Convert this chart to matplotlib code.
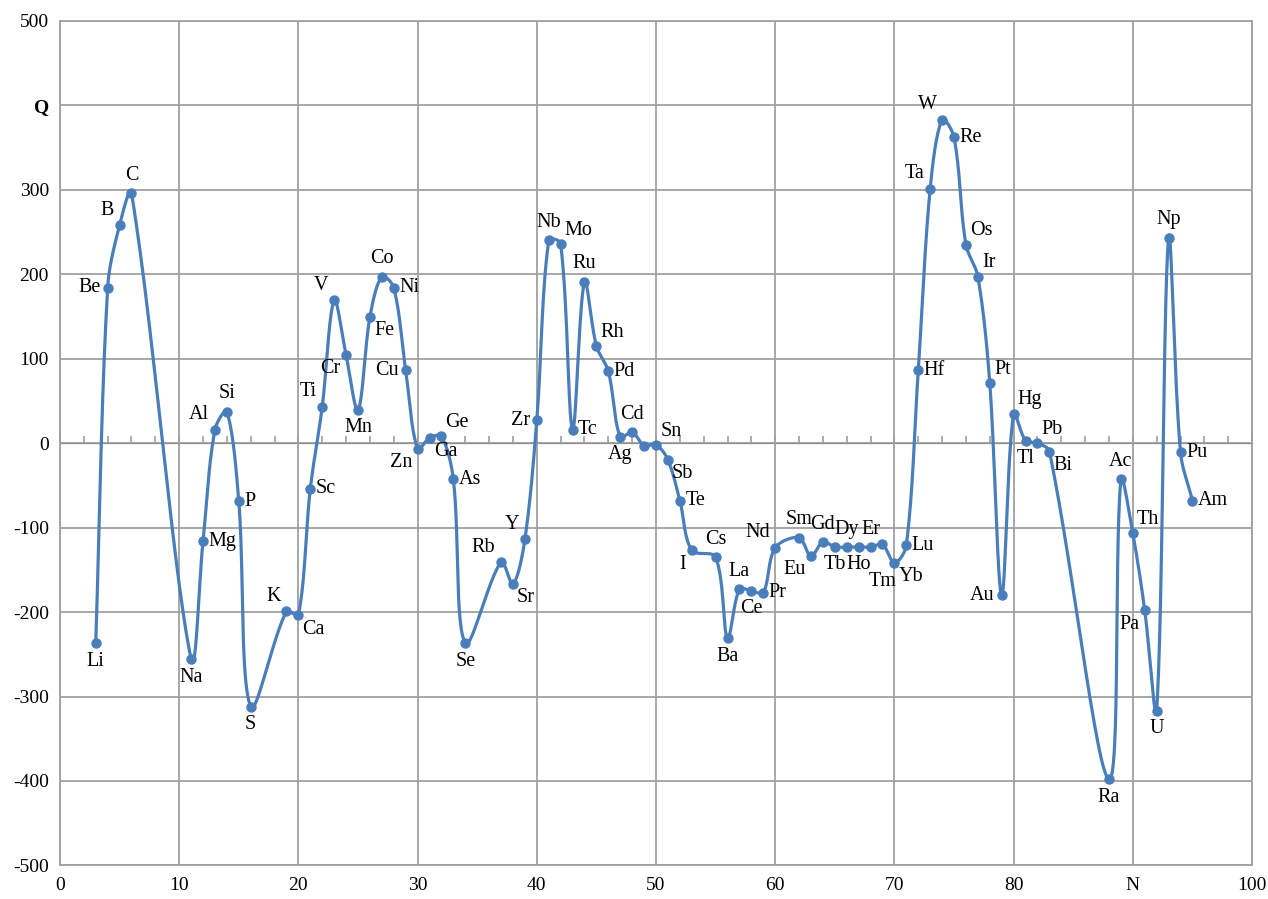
import numpy as np
import matplotlib.pyplot as plt

plt.rcParams['font.family'] = ['Liberation Serif', 'DejaVu Serif']

# element symbols, atomic number N and value Q
symbols = ['Li', 'Be', 'B', 'C', 'Na', 'Mg', 'Al', 'Si', 'P', 'S',
           'K', 'Ca', 'Sc', 'Ti', 'V', 'Cr', 'Mn', 'Fe', 'Co', 'Ni',
           'Cu', 'Zn', 'Ga', 'Ge', 'As', 'Se', 'Rb', 'Sr', 'Y', 'Zr',
           'Nb', 'Mo', 'Tc', 'Ru', 'Rh', 'Pd', 'Ag', 'Cd', '', 'Sn',
           'Sb', 'Te', 'I', 'Cs', 'Ba', 'La', 'Ce', 'Pr', 'Nd', 'Sm',
           'Eu', 'Gd', 'Tb', 'Dy', 'Ho', 'Er', 'Tm', 'Yb', 'Lu', 'Hf',
           'Ta', 'W', 'Re', 'Os', 'Ir', 'Pt', 'Au', 'Hg', 'Tl', 'Pb',
           'Bi', 'Ra', 'Ac', 'Th', 'Pa', 'U', 'Np', 'Pu', 'Am']
n_atomic = [3, 4, 5, 6, 11, 12, 13, 14, 15, 16,
            19, 20, 21, 22, 23, 24, 25, 26, 27, 28,
            29, 30, 31, 32, 33, 34, 37, 38, 39, 40,
            41, 42, 43, 44, 45, 46, 47, 48, 49, 50,
            51, 52, 53, 55, 56, 57, 58, 59, 60, 62,
            63, 64, 65, 66, 67, 68, 69, 70, 71, 72,
            73, 74, 75, 76, 77, 78, 79, 80, 81, 82,
            83, 88, 89, 90, 91, 92, 93, 94, 95]
q_values = [-237, 184, 258, 296, -256, -116, 16, 37, -69, -312,
            -199, -204, -54, 43, 169, 104, 39, 149, 197, 184,
            86, -7, 6, 8, -43, -237, -141, -167, -114, 27,
            240, 236, 16, 191, 115, 85, 7, 13, -3, -2,
            -20, -68, -127, -135, -231, -173, -175, -177, -124, -112,
            -134, -117, -123, -123, -123, -123, -120, -142, -121, 86,
            301, 383, 362, 235, 197, 71, -180, 35, 3, 0,
            -10, -398, -43, -107, -198, -317, 243, -11, -68]

y_ticks = [500, 400, 300, 200, 100, 0, -100, -200, -300, -400, -500]
y_labels = ['500', 'Q', '300', '200', '100', '0', '-100', '-200', '-300', '-400', '-500']
x_ticks = [0, 10, 20, 30, 40, 50, 60, 70, 80, 90, 100]
x_labels = ['0', '10', '20', '30', '40', '50', '60', '70', '80', 'N', '100']

# where each label sits relative to its point
where = ['b', 'l', 'tl', 't', 'b', 'r', 'tl', 't', 'r', 'b',
         'tl', 'br', 'r', 'tl', 'tl', 'bl', 'b', 'br', 't', 'r',
         'l', 'bl', 'br', 'tr', 'r', 'b', 'tl', 'br', 'tl', 'l',
         't', 'tr', 'r', 't', 'tr', 'r', 'b', 't', 'b', 'tr',
         'br', 'r', 'bl', 't', 'b', 't', 'b', 'r', 'tl', 't',
         'bl', 't', 'b', 't', 'b', 't', 'bb', 'br', 'r', 'r',
         'tl', 'tl', 'r', 'tr', 'tr', 'tr', 'l', 'tr', 'b', 'tr',
         'br', 'b', 't', 'tr', 'bl', 'b', 't', 'r', 'r']
offsets = {'t': (0, 6, 'center', 'bottom'), 'b': (0, -6, 'center', 'top'),
           'l': (-5, 0, 'right', 'center'), 'r': (4, 0, 'left', 'center'),
           'tl': (-4, 4, 'right', 'bottom'), 'tr': (3, 3, 'left', 'bottom'),
           'bl': (-4, -3, 'right', 'top'), 'br': (3, -3, 'left', 'top'),
           'bb': (0, -20, 'center', 'top')}

blue = '#4A7EBB'
grey = '#A0A0A0'

fig = plt.figure(figsize=(12.68, 8.99), dpi=100)
ax = fig.add_axes([0.0473, 0.0373, 0.9401, 0.9397])
ax.set_xlim(0, 100)
ax.set_ylim(-500, 500)


def smooth(xs, ys, sx, sy, n=30):
    # smoothed line: bezier segments, tangents scaled by chord lengths in screen space
    p = np.column_stack([np.asarray(xs, float) * sx, np.asarray(ys, float) * sy])
    p = np.vstack([p[0], p, p[-1]])
    t = np.linspace(0, 1, n)[:, None]
    out = []
    for i in range(1, len(p) - 2):
        p0, p1, p2, p3 = p[i - 1], p[i], p[i + 1], p[i + 2]
        d1 = np.hypot(*(p1 - p0))
        d2 = np.hypot(*(p2 - p1))
        d3 = np.hypot(*(p3 - p2))
        c1 = p1 + (p2 - p0) * d2 / (3 * (d1 + d2)) if d1 + d2 > 0 else p1
        c2 = p2 - (p3 - p1) * d2 / (3 * (d2 + d3)) if d2 + d3 > 0 else p2
        seg = ((1 - t) ** 3) * p1 + 3 * ((1 - t) ** 2) * t * c1 + 3 * (1 - t) * t ** 2 * c2 + t ** 3 * p2
        out.append(seg)
    out = np.vstack(out)
    return out[:, 0] / sx, out[:, 1] / sy


cx, cy = smooth(n_atomic, q_values, 11.92, 0.845)
ax.plot(cx, cy, color=blue, lw=2.3, zorder=3, solid_capstyle='round')
ax.plot(n_atomic, q_values, 'o', color=blue, ms=6.5, zorder=4)

for s, xv, yv, w in zip(symbols, n_atomic, q_values, where):
    if not s:
        continue
    dx, dy, ha, va = offsets[w]
    ax.annotate(s, (xv, yv), xytext=(dx, dy), textcoords='offset points',
                ha=ha, va=va, fontsize=14.5, zorder=5)

ax.set_xticks(x_ticks)
ax.set_xticklabels(x_labels)
ax.set_yticks(y_ticks)
ax.set_yticklabels(y_labels)
ax.tick_params(axis='both', length=0, labelsize=14, pad=8)
for lab in ax.get_yticklabels():
    if lab.get_text() == 'Q':
        lab.set_fontweight('bold')
ax.grid(True, color=grey, lw=1.3)
for sp in ax.spines.values():
    sp.set_color(grey)
    sp.set_linewidth(1.3)

# axis line through Q = 0 with small ticks
zero_axis = ax.secondary_xaxis(0.5)
zero_axis.set_xticks(np.arange(0, 101, 2))
zero_axis.set_xticklabels([])
zero_axis.tick_params(direction='out', length=5, color=grey, width=1.2)
zero_axis.spines['bottom'].set_color(grey)
zero_axis.spines['bottom'].set_linewidth(1.3)

fig.savefig('out.png', dpi=100)
